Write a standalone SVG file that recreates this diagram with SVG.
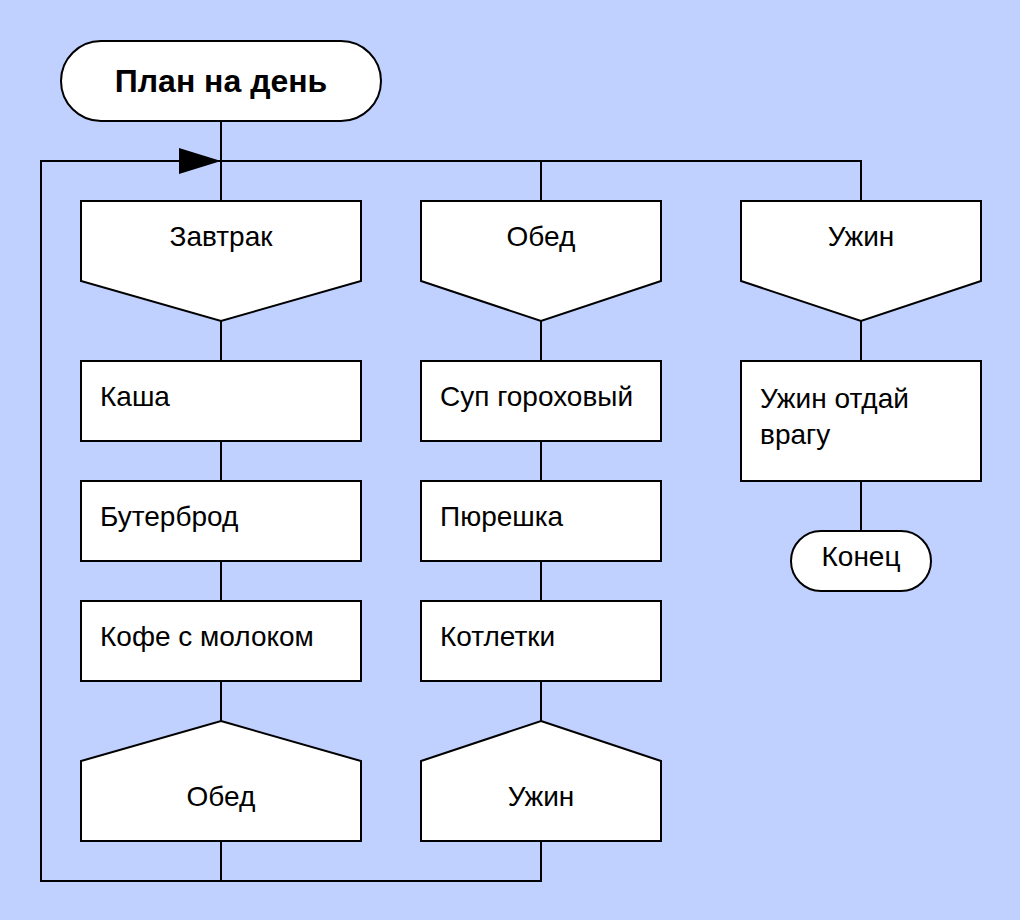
<svg xmlns="http://www.w3.org/2000/svg" width="1020" height="920" viewBox="0 0 1020 920">
<style>
.s{fill:#fff;stroke:#000;stroke-width:2}
.c{fill:none;stroke:#000;stroke-width:2}
text{font-family:"Liberation Sans",Arial,sans-serif;font-size:28px;fill:#000}
.m{text-anchor:middle}
.b{font-weight:bold;font-size:32px}
</style>
<rect width="1020" height="920" fill="#C0D0FF"/>
<g id="connectors">
<path class="c" d="M221 121V201M221 161H861V201M541 161V201M221 321V361M221 441V481M221 561V601M221 681V721M541 321V361M541 441V481M541 561V601M541 681V721M861 321V361M861 481V531M221 841V881M541 841V881H41V161H221"/>
<polygon points="179,148 221,161 179,174" fill="#000"/>
</g>
<g id="start"><rect class="s" x="61" y="41" width="320" height="80" rx="40"/><text class="m b" x="221" y="92">План на день</text></g>
<g id="zavtrak"><path class="s" d="M81 201H361V281L221 321L81 281Z"/><text class="m" x="221" y="246">Завтрак</text></g>
<g id="obed"><path class="s" d="M421 201H661V281L541 321L421 281Z"/><text class="m" x="541" y="246">Обед</text></g>
<g id="uzhin"><path class="s" d="M741 201H981V281L861 321L741 281Z"/><text class="m" x="861" y="246">Ужин</text></g>
<g id="kasha"><rect class="s" x="81" y="361" width="280" height="80"/><text x="100" y="406">Каша</text></g>
<g id="buterbrod"><rect class="s" x="81" y="481" width="280" height="80"/><text x="100" y="526">Бутерброд</text></g>
<g id="kofe"><rect class="s" x="81" y="601" width="280" height="80"/><text x="100" y="646">Кофе с молоком</text></g>
<g id="obed-end"><path class="s" d="M221 721L361 761V841H81V761Z"/><text class="m" x="221" y="806">Обед</text></g>
<g id="sup"><rect class="s" x="421" y="361" width="240" height="80"/><text x="440" y="406">Суп гороховый</text></g>
<g id="pyureshka"><rect class="s" x="421" y="481" width="240" height="80"/><text x="440" y="526">Пюрешка</text></g>
<g id="kotletki"><rect class="s" x="421" y="601" width="240" height="80"/><text x="440" y="646">Котлетки</text></g>
<g id="uzhin-end"><path class="s" d="M541 721L661 761V841H421V761Z"/><text class="m" x="541" y="806">Ужин</text></g>
<g id="otdai"><rect class="s" x="741" y="361" width="240" height="120"/><text x="760" y="408">Ужин отдай</text><text x="760" y="444">врагу</text></g>
<g id="konec"><rect class="s" x="791" y="531" width="140" height="60" rx="30"/><text class="m" x="861" y="566">Конец</text></g>
</svg>
